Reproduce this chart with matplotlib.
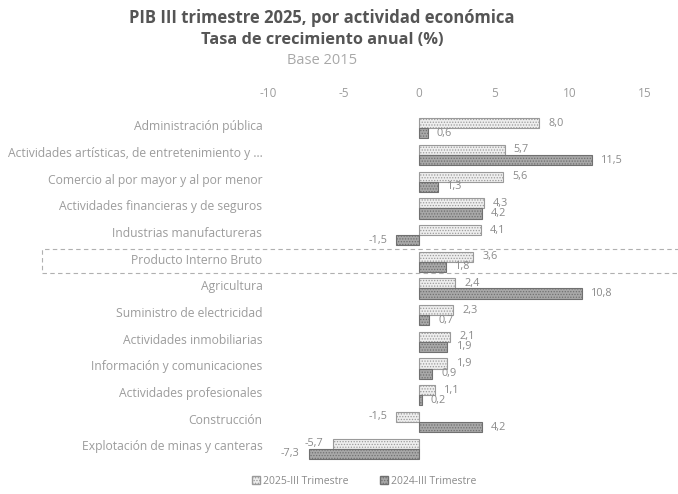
import numpy as np
import matplotlib
matplotlib.use("Agg")
import matplotlib.pyplot as plt
from matplotlib.patches import Rectangle, Patch

plt.rcParams["font.family"] = ["Open Sans", "DejaVu Sans"]
plt.rcParams["hatch.linewidth"] = 0.6

categories = [
    "Administración pública",
    "Actividades artísticas, de entretenimiento y ...",
    "Comercio al por mayor y al por menor",
    "Actividades financieras y de seguros",
    "Industrias manufactureras",
    "Producto Interno Bruto",
    "Agricultura",
    "Suministro de electricidad",
    "Actividades inmobiliarias",
    "Información y comunicaciones",
    "Actividades profesionales",
    "Construcción",
    "Explotación de minas y canteras",
]
q3_2025 = [8.0, 5.7, 5.6, 4.3, 4.1, 3.6, 2.4, 2.3, 2.1, 1.9, 1.1, -1.5, -5.7]
q3_2024 = [0.6, 11.5, 1.3, 4.2, -1.5, 1.8, 10.8, 0.7, 1.9, 0.9, 0.2, 4.2, -7.3]
series_names = ["2025-III Trimestre", "2024-III Trimestre"]
xticks = [-10, -5, 0, 5, 10, 15]

light_fill = "#eeeeee"
light_edge = "#9a9a9a"
dark_fill = "#a8a8a8"
dark_edge = "#707070"
text_col = "#9c9c9c"


def fmt(v):
    return ("%.1f" % v).replace(".", ",")


fig = plt.figure(figsize=(6.78, 4.94), dpi=100)
W, H = 678, 494
# axes placed so that -10..15 maps to pixels 268..645
ax = fig.add_axes([268 / W, (494 - 462) / H, 377 / W, (462 - 115) / H])

n = len(categories)
y = np.arange(n)
bh = 0.38
ax.barh(y - bh / 2, q3_2025, height=bh, color=light_fill, edgecolor=light_edge,
        hatch="......", linewidth=0.8)
ax.barh(y + bh / 2, q3_2024, height=bh, color=dark_fill, edgecolor=dark_edge,
        hatch="......", linewidth=0.8)

for i in range(n):
    for v, yy in ((q3_2025[i], y[i] - bh / 2), (q3_2024[i], y[i] + bh / 2)):
        if v >= 0:
            ax.text(v + 0.6, yy, fmt(v), va="center", ha="left", fontsize=7.8, color="#8a8a8a")
        else:
            ax.text(v - 0.6, yy, fmt(v), va="center", ha="right", fontsize=7.8, color="#8a8a8a")

ax.set_xlim(-10, 15)
ax.set_ylim(n - 0.5, -0.5)
ax.set_xticks(xticks)
ax.set_xticklabels([str(t) for t in xticks])
ax.xaxis.tick_top()
ax.set_yticks(y - 0.12)
ax.set_yticklabels(categories)
ax.tick_params(axis="x", length=0, labelsize=8.5, colors=text_col, pad=11)
ax.tick_params(axis="y", length=0, labelsize=8.7, colors=text_col, pad=4)
for s in ax.spines.values():
    s.set_visible(False)

# dashed box around the PIB row
fig.patches.append(Rectangle((42 / W, (494 - 273) / H), 660 / W, 24 / H,
                             transform=fig.transFigure, fill=False,
                             edgecolor="#b0b0b0", linestyle=(0, (4, 3)), linewidth=0.8))

tx = 322 / W
fig.text(tx, 1 - 18 / H, "PIB III trimestre 2025, por actividad económica",
         ha="center", va="center", fontsize=12, fontweight="bold", color="#555555")
fig.text(tx, 1 - 40 / H, "Tasa de crecimiento anual (%)",
         ha="center", va="center", fontsize=11.8, fontweight="bold", color="#555555")
fig.text(tx, 1 - 60 / H, "Base 2015", ha="center", va="center", fontsize=10.5, color="#a8a8a8")

handles = [Patch(facecolor=light_fill, edgecolor=light_edge, hatch="......"),
           Patch(facecolor=dark_fill, edgecolor=dark_edge, hatch="......")]
leg = fig.legend(handles, series_names, loc="center", bbox_to_anchor=(0.537, 1 - 481 / H),
                 ncol=2, frameon=False, fontsize=7.5, handlelength=0.8, handleheight=0.8,
                 handletextpad=0.3, columnspacing=3.0)
for t in leg.get_texts():
    t.set_color("#8a8a8a")

fig.savefig("out.png", dpi=100)
